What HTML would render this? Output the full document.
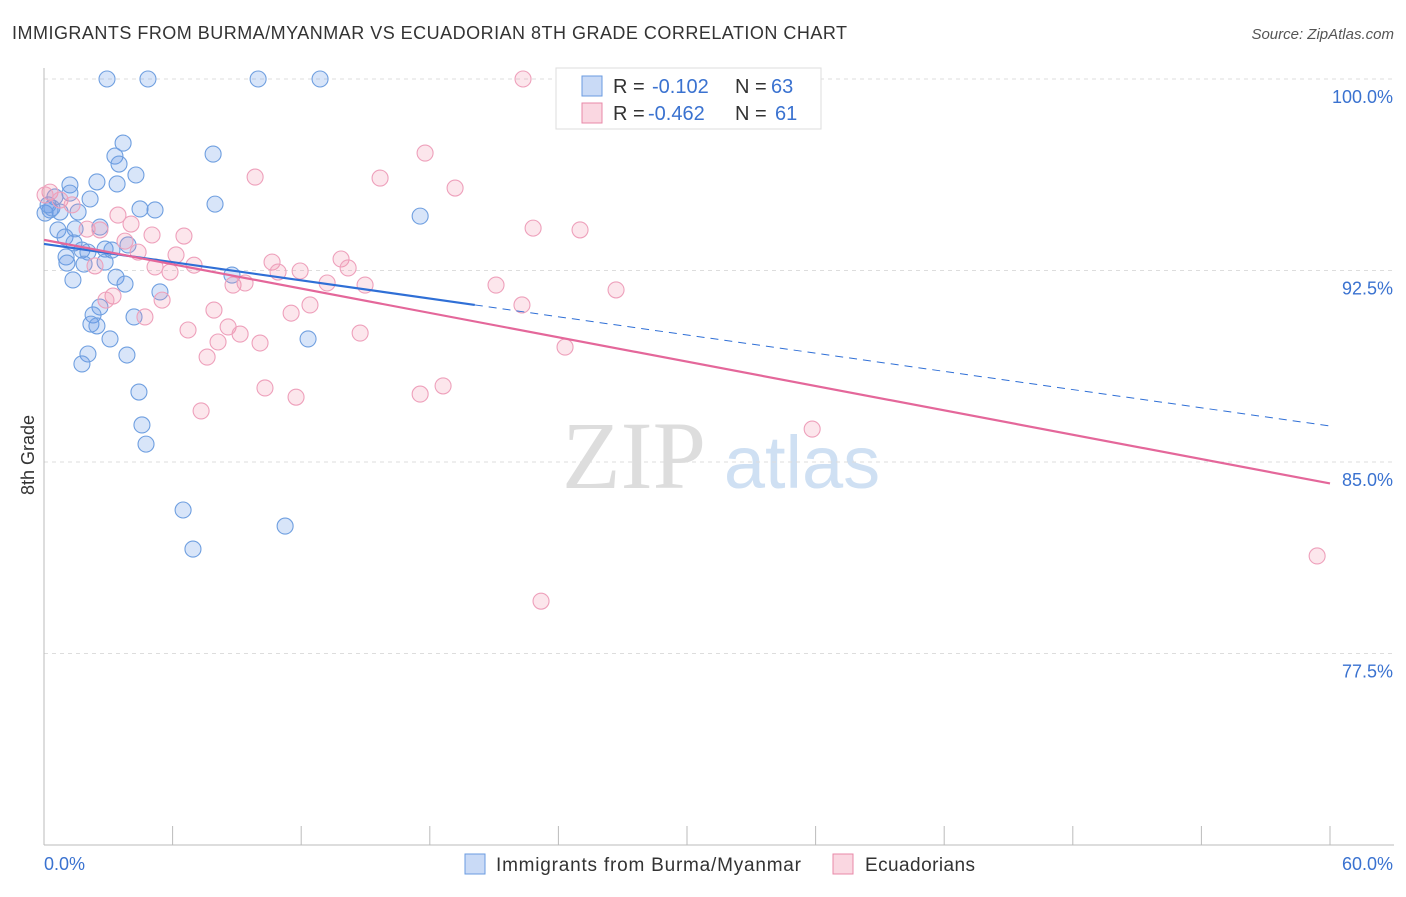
<!DOCTYPE html>
<html><head><meta charset="utf-8"><style>
body{margin:0;background:#fff;font-family:"Liberation Sans",sans-serif}
</style></head><body>
<svg id="chart" width="1406" height="892" xmlns="http://www.w3.org/2000/svg">
<text x="12" y="39" font-size="18" fill="#333" textLength="835">IMMIGRANTS FROM BURMA/MYANMAR VS ECUADORIAN 8TH GRADE CORRELATION CHART</text>
<text x="1394" y="39" font-size="15" fill="#555" font-style="italic" text-anchor="end">Source: ZipAtlas.com</text>
<g>
<text x="634" y="488" font-size="96" font-family="Liberation Serif" fill="#ddd" text-anchor="middle">ZIP</text>
<text x="802" y="488" font-size="74" fill="#cfe0f3" text-anchor="middle">atlas</text>
</g>
<g id="grid"></g><g id="axes"></g><g id="marks"></g>
<text transform="translate(34,455) rotate(-90)" font-size="18" fill="#333" text-anchor="middle">8th Grade</text>
<g font-size="20">
<rect x="556" y="68" width="265" height="61" fill="#fff" stroke="#ddd"/>
<rect x="582" y="76" width="20" height="20" fill="rgba(100,150,230,0.35)" stroke="#6a9be0"/>
<text x="613" y="93" fill="#333">R =</text><text x="652" y="93" fill="#3a72d0">-0.102</text>
<text x="735" y="93" fill="#333">N =</text><text x="771" y="93" fill="#3a72d0">63</text>
<rect x="582" y="103" width="20" height="20" fill="rgba(240,140,170,0.35)" stroke="#e889a8"/>
<text x="613" y="120" fill="#333">R =</text><text x="648" y="120" fill="#3a72d0">-0.462</text>
<text x="735" y="120" fill="#333">N =</text><text x="775" y="120" fill="#3a72d0">61</text>
</g>
<g>
<rect x="465" y="854" width="20" height="20" fill="rgba(100,150,230,0.35)" stroke="#6a9be0"/>
<text x="496" y="871" font-size="19" fill="#333" textLength="305">Immigrants from Burma/Myanmar</text>
<rect x="833" y="854" width="20" height="20" fill="rgba(240,140,170,0.35)" stroke="#e889a8"/>
<text x="865" y="871" font-size="19" fill="#333" textLength="110">Ecuadorians</text>
</g>
</svg>
<script>
const yTicks=[100,92.5,85,77.5];
const yTickLabels=["100.0%","92.5%","85.0%","77.5%"];
const xTickCount=10;
const blueX=[2.94,4.85,9.99,12.88,3.69,3.31,7.89,3.50,4.29,2.47,3.41,1.21,1.21,2.15,0.51,7.98,4.48,5.18,0.28,0.75,0.05,1.59,17.55,0.65,2.61,1.45,0.98,3.92,1.40,1.77,2.05,2.85,3.17,1.03,1.07,1.87,2.85,8.77,3.36,1.35,3.78,5.41,2.61,2.29,4.20,2.19,2.47,3.08,12.32,3.87,2.05,1.77,4.43,4.57,4.76,6.49,11.25,6.95,0.19,0.37];
const blueY=[100,100,100,100,97.49,96.98,97.06,96.67,96.24,95.97,95.89,95.85,95.53,95.30,95.38,95.10,94.91,94.87,94.87,94.79,94.75,94.79,94.63,94.09,94.20,94.13,93.81,93.50,93.58,93.30,93.22,93.34,93.30,93.03,92.79,92.75,92.83,92.32,92.24,92.13,91.97,91.66,91.07,90.76,90.68,90.40,90.33,89.82,89.82,89.19,89.23,88.84,87.74,86.45,85.70,83.12,82.49,81.59,95.07,94.95];
const pinkX=[22.35,0.28,0.05,0.75,1.31,17.78,9.85,15.68,19.18,3.45,4.06,22.82,25.01,5.04,6.53,2.01,2.61,3.78,4.39,6.16,7.00,5.18,5.88,10.64,10.92,11.95,13.86,14.19,13.21,14.98,8.82,9.38,2.38,3.22,2.89,5.51,12.41,7.93,11.53,21.09,22.30,26.69,4.71,6.72,8.59,9.15,8.12,10.08,14.75,24.31,7.61,10.31,11.76,17.55,18.62,7.33,35.84,59.40,23.19];
const pinkY=[100,95.57,95.46,95.26,95.07,97.10,96.16,96.12,95.73,94.67,94.32,94.16,94.09,93.89,93.85,94.12,94.09,93.65,93.22,93.11,92.71,92.64,92.44,92.83,92.44,92.48,92.95,92.60,92.01,91.93,91.93,92.01,92.68,91.50,91.34,91.34,91.15,90.95,90.83,91.93,91.15,91.74,90.68,90.17,90.29,90.01,89.70,89.66,90.05,89.50,89.11,87.90,87.54,87.66,87.98,87.00,86.29,81.32,79.55];
const blueTrend=[93.54,86.41], blueSolidEnd=20.1;
const pinkTrend=[93.7,84.16];
const NS="http://www.w3.org/2000/svg";
const X=v=>44+v/60*1286, Y=v=>79+(100-v)/7.5*191.5;
function mk(tag,attrs,parent){const e=document.createElementNS(NS,tag);for(const k in attrs)e.setAttribute(k,attrs[k]);document.getElementById(parent).appendChild(e);return e;}
yTicks.forEach((t,i)=>{
 const g=mk('line',{x1:44,x2:1394,y1:Y(t),y2:Y(t),stroke:'#ddd','stroke-dasharray':'4,4'},'grid');
 
 
 const l=mk('text',{x:1393,y:Y(t)+24,'font-size':18,fill:'#3a72d0','text-anchor':'end'},'axes');
 l.textContent=yTickLabels[i];
 
 
});
const ax=mk('line',{x1:44,x2:44,y1:68,y2:845,stroke:'#bbb'},'axes');


const bx=mk('line',{x1:44,x2:1394,y1:845,y2:845,stroke:'#bbb'},'axes');


for(let i=0;i<=xTickCount;i++){
 const t=mk('line',{x1:X(i*6),x2:X(i*6),y1:826,y2:845,stroke:'#bbb'},'axes');
 
 
}
const xl=mk('text',{x:44,y:870,'font-size':18,fill:'#3a72d0'},'axes');xl.textContent='0.0%';


const xr=mk('text',{x:1393,y:870,'font-size':18,fill:'#3a72d0','text-anchor':'end'},'axes');xr.textContent='60.0%';


blueX.forEach((v,i)=>{
 const c=mk('circle',{cx:X(v),cy:Y(blueY[i]),r:8,fill:'rgba(100,150,230,0.25)',stroke:'#6f9fe0','stroke-width':1.1},'marks');
 
 
});
pinkX.forEach((v,i)=>{
 const c=mk('circle',{cx:X(v),cy:Y(pinkY[i]),r:8,fill:'rgba(240,140,170,0.22)',stroke:'#eea0bb','stroke-width':1.1},'marks');
 
 
});
const by=x=>blueTrend[0]+(blueTrend[1]-blueTrend[0])*x/60;
const b1=mk('line',{x1:X(0),y1:Y(by(0)),x2:X(blueSolidEnd),y2:Y(by(blueSolidEnd)),stroke:'#2f6fd6','stroke-width':2.2},'marks');


const b2=mk('line',{x1:X(blueSolidEnd),y1:Y(by(blueSolidEnd)),x2:X(60),y2:Y(by(60)),stroke:'#2f6fd6','stroke-width':1,'stroke-dasharray':'8,6'},'marks');


const p1=mk('line',{x1:X(0),y1:Y(pinkTrend[0]),x2:X(60),y2:Y(pinkTrend[1]),stroke:'#e4679a','stroke-width':2.2},'marks');


</script>
</body></html>
